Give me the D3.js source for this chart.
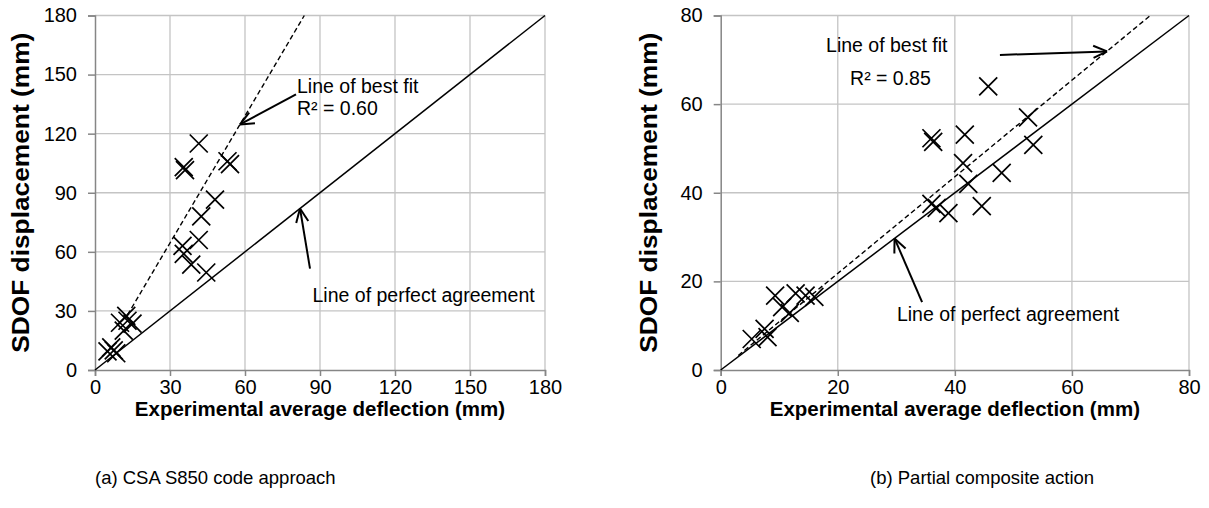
<!DOCTYPE html>
<html>
<head>
<meta charset="utf-8">
<script src="https://cdn.jsdelivr.net/npm/d3@7"></script>
<style>
  body { margin: 0; background: #fff; }
  text { font-family: Arial, "Liberation Sans", sans-serif; fill: #000; }
</style>
</head>
<body>
<svg id="fig" width="1209" height="508"></svg>
<script>
// Axis ticks for both panels
const ticksA = [0, 30, 60, 90, 120, 150, 180];
const ticksB = [0, 20, 40, 60, 80];

// (a) CSA S850 code approach: experimental vs SDOF displacement (mm)
const csaExp  = [5, 6.5, 8.5, 7.5, 10, 12.5, 15, 11.5, 13,
                 35, 35.5, 38.5, 41.5, 42.5, 44.5, 48,
                 35.5, 36, 41.5, 53, 54];
const csaSdof = [9.5, 11.5, 8.5, 10, 24, 27.5, 23.5, 20, 25,
                 63, 59, 53.5, 66, 78, 49.5, 86.5,
                 103, 101.5, 115, 106, 104.5];

// (b) Partial composite action
const pcaExp  = [5.3, 8, 7.5, 9.3, 12.8, 14.5, 16, 10.5, 11.8,
                 36, 36.9, 38.9, 44.6, 42.3, 48, 41.4,
                 36, 36.3, 41.7, 53.4, 52.5, 45.7];
const pcaSdof = [7, 7.4, 9.3, 16.8, 17.3, 16.8, 16.5, 14.2, 12.9,
                 37.5, 36.6, 35.4, 37, 42, 44.5, 46.7,
                 52.3, 51.5, 53.1, 50.8, 57, 64];

// Best-fit lines (slope through origin, drawn from a start abscissa)
const fitSlope = [2.15, 1.09];
const fitStart = [13, 3];
const r2Labels = ["R\u00b2 = 0.60", "R\u00b2 = 0.85"];
const captions = ["(a) CSA S850 code approach", "(b) Partial composite action"];

const svg = d3.select("#fig");
const FONT = "Arial, 'Liberation Sans', sans-serif";

function panel(opt) {
  const x = d3.scaleLinear().domain([0, opt.max]).range(opt.xr);
  const y = d3.scaleLinear().domain([0, opt.max]).range(opt.yr);
  const g = svg.append("g");

  // gridlines
  g.append("g").selectAll("line").data(opt.ticks.slice(1)).join("line")
    .attr("x1", d => x(d)).attr("x2", d => x(d))
    .attr("y1", y(0)).attr("y2", y(opt.max))
    .attr("stroke", "#c4c4c4").attr("stroke-width", 1.3);
  g.append("g").selectAll("line").data(opt.ticks.slice(1)).join("line")
    .attr("y1", d => y(d)).attr("y2", d => y(d))
    .attr("x1", x(0)).attr("x2", x(opt.max))
    .attr("stroke", "#c4c4c4").attr("stroke-width", 1.3);

  // axes
  const xa = g.append("g").attr("transform", `translate(0,${y(0)})`)
    .call(d3.axisBottom(x).tickValues(opt.ticks).tickSize(6).tickPadding(4));
  const ya = g.append("g").attr("transform", `translate(${x(0)},0)`)
    .call(d3.axisLeft(y).tickValues(opt.ticks).tickSize(7).tickPadding(11));
  [xa, ya].forEach(a => {
    a.select(".domain").attr("stroke", "#868686").attr("stroke-width", 1.5);
    a.selectAll(".tick line").attr("stroke", "#868686").attr("stroke-width", 1.5);
    a.selectAll(".tick text").attr("font-size", 20).attr("fill", "#000")
      .attr("font-family", FONT);
  });

  // line of perfect agreement
  g.append("line")
    .attr("x1", x(0)).attr("y1", y(0)).attr("x2", x(opt.max)).attr("y2", y(opt.max))
    .attr("stroke", "#000").attr("stroke-width", 1.5);

  // line of best fit
  const xEnd = opt.max / opt.slope;
  g.append("line")
    .attr("x1", x(opt.fitFrom)).attr("y1", y(opt.fitFrom * opt.slope))
    .attr("x2", x(xEnd)).attr("y2", y(opt.max))
    .attr("stroke", "#000").attr("stroke-width", 1.4)
    .attr("stroke-dasharray", "5,3");

  // data markers
  const pts = opt.xs.map((v, i) => [v, opt.ys[i]]);
  g.append("g").selectAll("path").data(pts).join("path")
    .attr("transform", d => `translate(${x(d[0])},${y(d[1])})`)
    .attr("d", "M-9,-9L9,9M-9,9L9,-9")
    .attr("stroke", "#000").attr("stroke-width", 1.7).attr("fill", "none");

  // annotation arrows
  function arrow(from, to) {
    const x1 = x(from[0]), y1 = y(from[1]), x2 = x(to[0]), y2 = y(to[1]);
    g.append("line").attr("x1", x1).attr("y1", y1).attr("x2", x2).attr("y2", y2)
      .attr("stroke", "#000").attr("stroke-width", 2);
    const ang = Math.atan2(y1 - y2, x1 - x2), len = 15, spread = 0.42;
    [ang - spread, ang + spread].forEach(a => {
      g.append("line").attr("x1", x2).attr("y1", y2)
        .attr("x2", x2 + len * Math.cos(a)).attr("y2", y2 + len * Math.sin(a))
        .attr("stroke", "#000").attr("stroke-width", 2);
    });
  }
  arrow(opt.fitArrow[0], opt.fitArrow[1]);
  arrow(opt.perfArrow[0], opt.perfArrow[1]);

  const lbl = (pos, t) => g.append("text")
    .attr("x", x(pos[0])).attr("y", y(pos[1])).attr("dy", "0.35em")
    .attr("font-size", 19.5).text(t);
  lbl(opt.fitText, "Line of best fit");
  lbl(opt.r2Text, opt.r2);
  lbl(opt.perfText, "Line of perfect agreement");

  // axis titles
  g.append("text")
    .attr("x", (opt.xr[0] + opt.xr[1]) / 2).attr("y", 409).attr("dy", "0.35em")
    .attr("text-anchor", "middle").attr("font-size", 20.5).attr("font-weight", "bold")
    .text("Experimental average deflection (mm)");
  g.append("text")
    .attr("transform", `translate(${opt.yTitleX},${(opt.yr[0] + opt.yr[1]) / 2}) scale(1,1.12) rotate(-90)`)
    .attr("dy", "0.35em")
    .attr("text-anchor", "middle").attr("font-size", 23.5).attr("font-weight", "bold")
    .text("SDOF displacement (mm)");

  // caption
  g.append("text")
    .attr("x", opt.capX).attr("y", 478).attr("dy", "0.35em")
    .attr("font-size", 18.5).text(opt.caption);
}

panel({
  max: 180, ticks: ticksA, xr: [95, 545], yr: [370, 15.5],
  xs: csaExp, ys: csaSdof, slope: fitSlope[0], fitFrom: fitStart[0],
  fitArrow: [[80.4, 140], [58, 124.7]],
  perfArrow: [[86, 51.5], [82, 82]],
  fitText: [80.8, 144], r2Text: [80.8, 133], perfText: [87, 38],
  r2: r2Labels[0], yTitleX: 21, capX: 95, caption: captions[0]
});

panel({
  max: 80, ticks: ticksB, xr: [720.7, 1189], yr: [370, 15.5],
  xs: pcaExp, ys: pcaSdof, slope: fitSlope[1], fitFrom: fitStart[1],
  fitArrow: [[47.7, 71.1], [66, 71.9]],
  perfArrow: [[34.4, 15.3], [29.7, 29.7]],
  fitText: [18, 73.4], r2Text: [22.1, 65.9], perfText: [30.1, 12.6],
  r2: r2Labels[1], yTitleX: 649, capX: 870, caption: captions[1]
});
</script>
</body>
</html>
